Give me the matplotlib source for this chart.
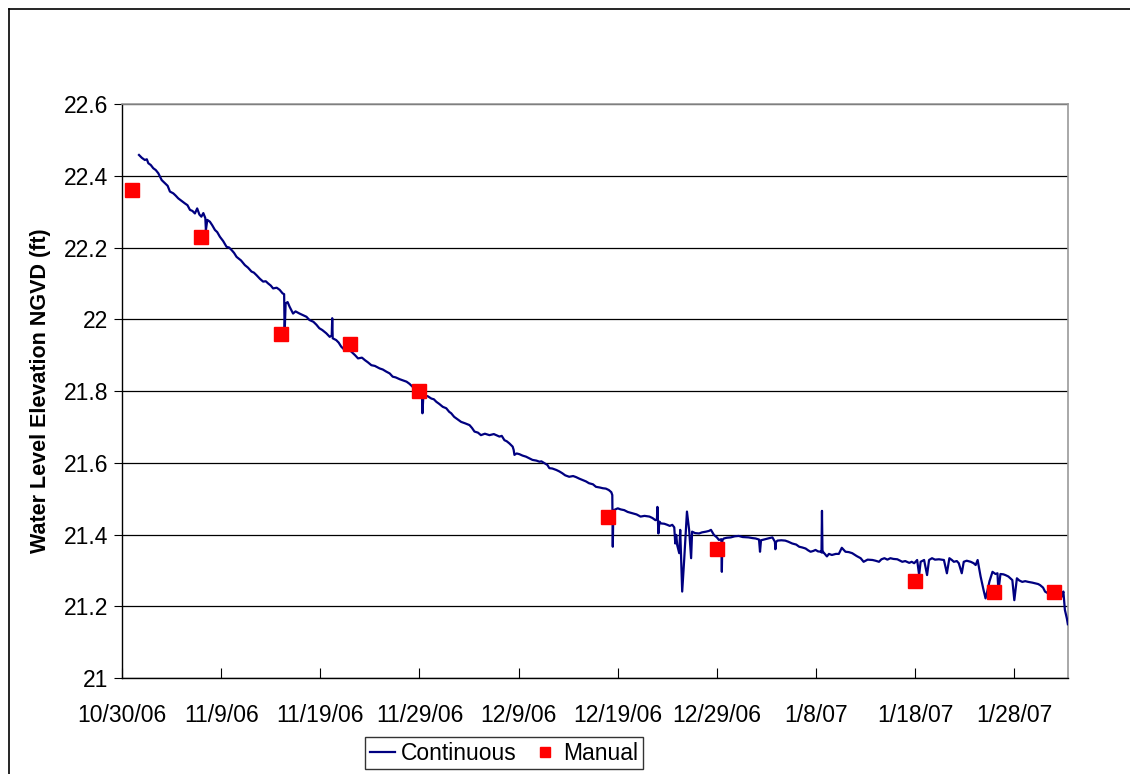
import datetime as dt

import matplotlib
matplotlib.use("Agg")
import matplotlib.dates as mdates
import matplotlib.pyplot as plt
from matplotlib.lines import Line2D
from matplotlib.ticker import MultipleLocator, FuncFormatter

plt.rcParams["font.family"] = ["Liberation Sans", "DejaVu Sans"]

START = dt.datetime(2006, 10, 30)

# continuous logger record: days after 10/30/06 and elevation (ft NGVD)
cont_days = [
    1.71, 2.0, 2.3, 2.5, 2.65, 2.9, 3.15, 3.4, 3.66, 4.0, 4.33, 4.6, 4.83, 5.17, 5.4, 5.67,
    6.0, 6.34, 6.6, 6.85, 7.1, 7.35, 7.58, 7.8, 8.0, 8.2, 8.4, 8.46, 8.6, 8.86, 9.1, 9.37,
    9.6, 9.87, 10.2, 10.54, 10.8, 11.05, 11.3, 11.55, 12.0, 12.39, 12.7, 13.06, 13.3, 13.56,
    13.9, 14.23, 14.5, 14.73, 15.0, 15.24, 15.6, 15.9, 16.2, 16.35, 16.4, 16.5, 16.7, 16.9,
    17.25, 17.5, 17.9, 18.2, 18.6, 18.9, 19.3, 19.6, 19.9, 20.2, 20.6, 20.95, 21.15, 21.2,
    21.25, 21.6, 21.85, 22.1, 22.46, 22.7, 22.96, 23.3, 23.5, 23.8, 24.2, 24.5, 24.8, 25.15,
    25.5, 25.98, 26.3, 26.66, 27.0, 27.3, 27.6, 28.0, 28.3, 28.7, 29.0, 29.3, 29.7, 30.2,
    30.25, 30.3, 30.4, 30.5, 30.8, 31.2, 31.45, 31.7, 32.0, 32.35, 32.7, 33.0, 33.2, 33.5,
    33.8, 34.2, 34.6, 35.05, 35.3, 35.55, 35.9, 36.2, 36.6, 37.06, 37.5, 38.07, 38.3, 38.57,
    38.8, 39.07, 39.4, 39.5, 39.58, 39.8, 40.08, 40.4, 40.75, 41.1, 41.4, 41.8, 42.1, 42.3,
    42.6, 42.9, 43.1, 43.4, 43.8, 44.1, 44.4, 44.7, 45.1, 45.5, 45.8, 46.1, 46.45, 46.8,
    47.1, 47.5, 47.8, 48.2, 48.5, 48.8, 49.1, 49.35, 49.45, 49.5, 49.55, 49.6, 50.0, 50.3,
    50.65, 51.0, 51.5, 51.9, 52.3, 52.7, 53.2, 53.5, 53.8, 53.95, 54.0, 54.05, 54.1, 54.2,
    54.35, 54.7, 55.0, 55.25, 55.5, 55.7, 55.8, 55.9, 56.0, 56.2, 56.3, 56.5, 56.7, 56.98,
    57.2, 57.4, 57.5, 57.8, 58.2, 58.5, 58.9, 59.2, 59.4, 59.7, 60.0, 60.2, 60.45, 60.5,
    60.55, 60.7, 61.0, 61.4, 61.8, 62.2, 62.6, 63.2, 63.6, 63.9, 64.25, 64.35, 64.45, 64.6,
    65.0, 65.3, 65.6, 65.85, 65.9, 65.95, 66.1, 66.5, 66.9, 67.2, 67.6, 68.0, 68.3, 68.6,
    68.95, 69.2, 69.45, 69.7, 69.95, 70.2, 70.5, 70.55, 70.6, 70.65, 70.7, 71.1, 71.3, 71.6,
    72.0, 72.3, 72.6, 72.97, 73.3, 73.65, 74.1, 74.5, 74.8, 75.2, 75.7, 76.0, 76.35, 76.6,
    76.9, 77.2, 77.5, 77.8, 78.2, 78.5, 78.7, 79.0, 79.4, 79.65, 79.9, 80.2, 80.4, 80.55,
    80.9, 81.2, 81.4, 81.7, 82.0, 82.4, 82.9, 83.2, 83.45, 83.7, 83.9, 84.2, 84.4, 84.7,
    84.9, 85.2, 85.6, 85.9, 86.1, 86.3, 86.6, 86.9, 87.1, 87.3, 87.5, 87.8, 88.1, 88.3,
    88.4, 88.6, 88.9, 89.1, 89.4, 89.6, 89.8, 90.0, 90.26, 90.5, 90.8, 91.1, 91.4, 91.8,
    92.1, 92.4, 92.6, 92.9, 93.1, 93.4, 93.8, 94.3, 94.6, 94.8, 94.95, 95.1, 95.3, 95.4,
]
cont_level = [
    22.458, 22.450, 22.444, 22.446, 22.435, 22.430, 22.421, 22.416, 22.407, 22.388, 22.379, 22.372, 22.356, 22.351, 22.345, 22.337,
    22.330, 22.323, 22.318, 22.305, 22.302, 22.295, 22.309, 22.292, 22.286, 22.296, 22.282, 22.249, 22.277, 22.272, 22.262, 22.249,
    22.243, 22.230, 22.218, 22.202, 22.200, 22.193, 22.185, 22.174, 22.164, 22.151, 22.144, 22.133, 22.130, 22.123, 22.113, 22.105,
    22.106, 22.100, 22.094, 22.086, 22.088, 22.082, 22.072, 22.070, 21.960, 22.044, 22.048, 22.035, 22.016, 22.022, 22.016, 22.012,
    22.007, 21.998, 21.993, 21.985, 21.975, 21.970, 21.961, 21.951, 21.955, 22.003, 21.947, 21.942, 21.935, 21.924, 21.914, 21.918,
    21.914, 21.905, 21.900, 21.891, 21.893, 21.886, 21.880, 21.872, 21.870, 21.863, 21.860, 21.854, 21.849, 21.840, 21.838, 21.833,
    21.830, 21.826, 21.820, 21.812, 21.806, 21.789, 21.792, 21.738, 21.790, 21.784, 21.786, 21.779, 21.777, 21.770, 21.764, 21.756,
    21.752, 21.742, 21.738, 21.728, 21.722, 21.714, 21.710, 21.705, 21.697, 21.687, 21.684, 21.677, 21.681, 21.677, 21.680, 21.673,
    21.675, 21.663, 21.660, 21.654, 21.645, 21.636, 21.622, 21.626, 21.624, 21.620, 21.617, 21.612, 21.608, 21.606, 21.603, 21.604,
    21.599, 21.594, 21.585, 21.584, 21.580, 21.576, 21.571, 21.565, 21.561, 21.563, 21.560, 21.556, 21.552, 21.548, 21.543, 21.540,
    21.533, 21.531, 21.529, 21.528, 21.524, 21.518, 21.510, 21.366, 21.459, 21.468, 21.473, 21.470, 21.468, 21.463, 21.459, 21.456,
    21.450, 21.452, 21.450, 21.446, 21.440, 21.442, 21.477, 21.438, 21.403, 21.436, 21.431, 21.430, 21.427, 21.424, 21.427, 21.420,
    21.375, 21.399, 21.370, 21.348, 21.413, 21.241, 21.329, 21.464, 21.413, 21.334, 21.408, 21.404, 21.403, 21.406, 21.408, 21.410,
    21.413, 21.399, 21.392, 21.385, 21.387, 21.296, 21.384, 21.389, 21.391, 21.392, 21.395, 21.396, 21.393, 21.392, 21.390, 21.389,
    21.386, 21.352, 21.384, 21.385, 21.388, 21.390, 21.392, 21.380, 21.359, 21.378, 21.383, 21.384, 21.383, 21.380, 21.375, 21.372,
    21.366, 21.364, 21.361, 21.356, 21.352, 21.354, 21.357, 21.353, 21.352, 21.350, 21.466, 21.350, 21.352, 21.339, 21.346, 21.343,
    21.346, 21.346, 21.363, 21.352, 21.351, 21.348, 21.340, 21.334, 21.324, 21.330, 21.329, 21.327, 21.324, 21.331, 21.334, 21.330,
    21.334, 21.332, 21.331, 21.327, 21.324, 21.326, 21.321, 21.324, 21.320, 21.329, 21.287, 21.324, 21.329, 21.287, 21.329, 21.334,
    21.330, 21.331, 21.329, 21.292, 21.334, 21.329, 21.324, 21.326, 21.320, 21.292, 21.324, 21.327, 21.324, 21.320, 21.315, 21.329,
    21.283, 21.245, 21.222, 21.245, 21.270, 21.296, 21.290, 21.292, 21.241, 21.290, 21.289, 21.287, 21.283, 21.278, 21.273, 21.217,
    21.278, 21.272, 21.268, 21.270, 21.268, 21.266, 21.264, 21.262, 21.259, 21.252, 21.241, 21.236, 21.238, 21.236, 21.245, 21.227,
    21.241, 21.190, 21.166, 21.150,
]

# manual tape readings
manual_dates = ["2006-10-31", "2006-11-07", "2006-11-15", "2006-11-22", "2006-11-29",
                "2006-12-18", "2006-12-29", "2007-01-18", "2007-01-26", "2007-02-01"]
manual_level = [22.36, 22.23, 21.96, 21.93, 21.80, 21.45, 21.36, 21.27, 21.24, 21.24]

cont_x = [START + dt.timedelta(days=d) for d in cont_days]
manual_x = [dt.datetime.strptime(s, "%Y-%m-%d") for s in manual_dates]

fig = plt.figure(figsize=(11.3, 7.74), dpi=100)
ax = fig.add_axes([0.108, 0.124, 0.837, 0.7416])

ax.plot(cont_x, cont_level, color="#000080", lw=1.6, label="Continuous", zorder=3)
ax.plot(manual_x, manual_level, ls="none", marker="s", ms=9.5, color="#ff0000",
        mec="#ff0000", label="Manual", zorder=4)

ax.set_ylim(21, 22.6)
ax.set_xlim(START, START + dt.timedelta(days=95.4))
ax.yaxis.set_major_locator(MultipleLocator(0.2))
ax.yaxis.set_major_formatter(FuncFormatter(lambda v, p: f"{v:g}"))
ticks = [START + dt.timedelta(days=10 * i) for i in range(10)]
ax.set_xticks(ticks)
ax.set_xticklabels([f"{t.month}/{t.day}/{t.strftime('%y')}" for t in ticks])

ax.grid(axis="y", color="#000000", lw=0.9)
ax.set_axisbelow(True)
for s in ("top", "right"):
    ax.spines[s].set_color("#999999")
    ax.spines[s].set_linewidth(1.2)
for s in ("left", "bottom"):
    ax.spines[s].set_color("#000000")
    ax.spines[s].set_linewidth(1.0)

ax.tick_params(axis="x", direction="in", length=7, labelsize=16.5, pad=19)
ax.tick_params(axis="y", direction="out", length=6, labelsize=16.5, pad=4)
ax.set_ylabel("Water Level Elevation NGVD (ft)", fontsize=15.5, fontweight="bold", labelpad=9)

leg = fig.legend(loc="center", bbox_to_anchor=(0.446, 0.027), ncol=2, fontsize=16.5,
                 frameon=True, fancybox=False, edgecolor="#000000", handlelength=1.1,
                 handletextpad=0.25, columnspacing=0.7, borderpad=0.2, markerscale=0.75)
leg.get_frame().set_linewidth(1.0)

# outer chart border
fig.add_artist(Line2D([9 / 1130, 1.0], [1 - 9 / 774, 1 - 9 / 774], color="black", lw=1.2))
fig.add_artist(Line2D([9 / 1130, 9 / 1130], [0.0, 1 - 9 / 774], color="black", lw=1.2))

fig.savefig("out.png", dpi=100)
